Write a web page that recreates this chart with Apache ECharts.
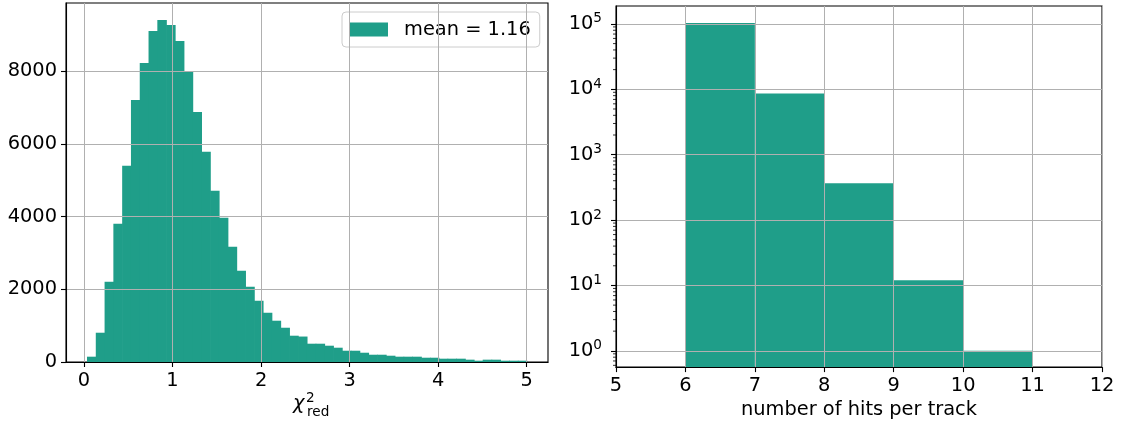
<!DOCTYPE html>
<html><head><meta charset="utf-8">
<script src="https://cdn.jsdelivr.net/npm/echarts@6/dist/echarts.min.js"></script>
<style>html,body{margin:0;padding:0;background:#fff}#c{width:1122px;height:424px}</style>
</head><body><div id="c"></div>
<script>
// ---- data: reduced chi-square histogram (50 bins) ----
const chiBinStart = 0.034;
const chiBinWidth = 0.0993;
const chiCounts = [146, 805, 2206, 3800, 5393, 7206, 8223, 9102, 9404, 9266,
  8827, 7984, 6876, 5777, 4706, 3964, 3168, 2508, 2069, 1684,
  1354, 1135, 942, 723, 700, 503, 503, 448, 393, 310,
  310, 255, 200, 200, 173, 146, 146, 146, 118, 118,
  91, 91, 91, 64, 36, 64, 64, 36, 36, 36];
const chiLegend = 'mean = 1.16';
const chiXTicks = [0, 1, 2, 3, 4, 5];
const chiYTicks = [0, 2000, 4000, 6000, 8000];

// ---- data: number of hits per track ----
const hitsEdges = [6, 7, 8, 9, 10, 11];
const hitsCounts = [103500, 8600, 365, 12, 1];
const hitsXTicks = [5, 6, 7, 8, 9, 10, 11, 12];
const hitsYTicks = [1, 10, 100, 1000, 10000, 100000];
const hitsXLabel = 'number of hits per track';

const FONT = 'DejaVu Sans';
const FS = 19.4;
const BAR = '#1f9e89';
const GRIDC = '#b0b0b0';

const chiData = chiCounts.map((c, i) => [chiBinStart + i * chiBinWidth, chiBinStart + (i + 1) * chiBinWidth, c]);
const hitsData = hitsCounts.map((c, i) => [hitsEdges[i], hitsEdges[i + 1], c]);

const HITS_YMIN = 0.564, HITS_YMAX = 188000;
const minorVals = [];
for (let e = -1; e <= 5; e++) for (let m = 2; m <= 9; m++) {
  const v = m * Math.pow(10, e);
  if (v > HITS_YMIN && v < HITS_YMAX) minorVals.push([5, v]);
}

function histRender(base, overlap) {
  return function (params, api) {
    const p0 = api.coord([api.value(0), api.value(2)]);
    const p1 = api.coord([api.value(1), base]);
    return {
      type: 'rect',
      shape: { x: p0[0], y: p0[1], width: p1[0] - p0[0] + overlap, height: p1[1] - p0[1] },
      style: { fill: BAR }
    };
  };
}

const axisCommon = {
  z: 10,
  axisLine: { show: true, onZero: false, lineStyle: { color: '#000', width: 1.1 } },
  axisTick: { show: true, inside: false, length: 5, lineStyle: { color: '#000', width: 1.1 } },
  splitLine: { show: true, lineStyle: { color: GRIDC, width: 1 } },
  axisLabel: { color: '#000', fontFamily: FONT, fontSize: FS, margin: 9 }
};
function ax(extra) {
  const o = JSON.parse(JSON.stringify(axisCommon));
  for (const k in extra) {
    if (typeof extra[k] === 'object' && !Array.isArray(extra[k]) && o[k]) Object.assign(o[k], extra[k]);
    else o[k] = extra[k];
  }
  return o;
}
const plain = v => String(v);

const chart = echarts.init(document.getElementById('c'), null, { renderer: 'canvas' });
const option = {
  animation: false,
  backgroundColor: '#fff',
  grid: [
    { left: 66, top: 3, width: 482, height: 359, show: true, borderColor: '#000', borderWidth: 1.1, backgroundColor: 'transparent' },
    { left: 616, top: 6, width: 486, height: 362, show: true, borderColor: '#000', borderWidth: 1.1, backgroundColor: 'transparent' }
  ],
  legend: {
    data: [chiLegend],
    left: 342, top: 12,
    orient: 'horizontal',
    icon: 'rect',
    itemWidth: 39, itemHeight: 14,
    padding: [7.5, 9, 7.5, 7],
    backgroundColor: 'rgba(255,255,255,0.8)',
    borderColor: '#cccccc', borderWidth: 1, borderRadius: 4,
    formatter: function (name) { return '{g|}{t|' + name + '}'; },
    textStyle: {
      color: '#000', fontFamily: FONT, fontSize: FS, lineHeight: 20,
      rich: { g: { width: 11 }, t: { color: '#000', fontFamily: FONT, fontSize: FS, lineHeight: 20 } }
    },
    selectedMode: false
  },
  xAxis: [
    ax({ gridIndex: 0, type: 'value', min: -0.203, max: 5.24,
      axisTick: { customValues: chiXTicks },
      axisLabel: { customValues: chiXTicks, margin: 9, formatter: plain } }),
    ax({ gridIndex: 1, type: 'value', min: 5, max: 12, interval: 1,
      axisTick: { customValues: hitsXTicks },
      axisLabel: { customValues: hitsXTicks, margin: 9, formatter: plain },
      name: hitsXLabel, nameLocation: 'middle', nameGap: 29,
      nameTextStyle: { color: '#000', fontFamily: FONT, fontSize: FS } })
  ],
  yAxis: [
    ax({ gridIndex: 0, type: 'value', min: 0, max: 9870, interval: 2000,
      axisTick: { customValues: chiYTicks },
      axisLabel: { customValues: chiYTicks, margin: 9, formatter: plain } }),
    ax({ gridIndex: 1, type: 'log', logBase: 10, min: HITS_YMIN, max: HITS_YMAX,
      axisTick: { customValues: hitsYTicks },
      axisLabel: { customValues: hitsYTicks, margin: 14,
        formatter: function (v) { return '{b|10}{s|' + Math.round(Math.log10(v)) + '}'; },
        rich: {
          b: { fontFamily: FONT, fontSize: FS, color: '#000', lineHeight: 24 },
          s: { fontFamily: FONT, fontSize: 13.6, color: '#000', lineHeight: 14, verticalAlign: 'top' }
        } } })
  ],
  series: [
    { type: 'custom', name: chiLegend, xAxisIndex: 0, yAxisIndex: 0, z: 2,
      itemStyle: { color: BAR }, renderItem: histRender(0, 0.7), data: chiData, clip: true,
      encode: { x: [0, 1], y: 2 } },
    { type: 'custom', name: 'hits', xAxisIndex: 1, yAxisIndex: 1, z: 2,
      itemStyle: { color: BAR }, renderItem: histRender(HITS_YMIN, 0), data: hitsData, clip: true,
      encode: { x: [0, 1], y: 2 } },
    { type: 'custom', name: 'minor', xAxisIndex: 1, yAxisIndex: 1, z: 11, silent: true,
      renderItem: function (params, api) {
        const p = api.coord([api.value(0), api.value(1)]);
        return { type: 'line', shape: { x1: p[0] - 3, y1: p[1], x2: p[0], y2: p[1] },
          style: { stroke: '#000', lineWidth: 0.8 } };
      }, data: minorVals, clip: false, encode: { x: 0, y: 1 } }
  ],
  graphic: [
    { type: 'text', left: 293, top: 394, style: { text: 'χ', font: 'italic 19.4px "DejaVu Sans"', fill: '#000' } },
    { type: 'text', left: 306, top: 391, style: { text: '2', font: '13.6px "DejaVu Sans"', fill: '#000' } },
    { type: 'text', left: 307, top: 405, style: { text: 'red', font: '13.6px "DejaVu Sans"', fill: '#000' } }
  ]
};
chart.setOption(option);
</script>
</body></html>
